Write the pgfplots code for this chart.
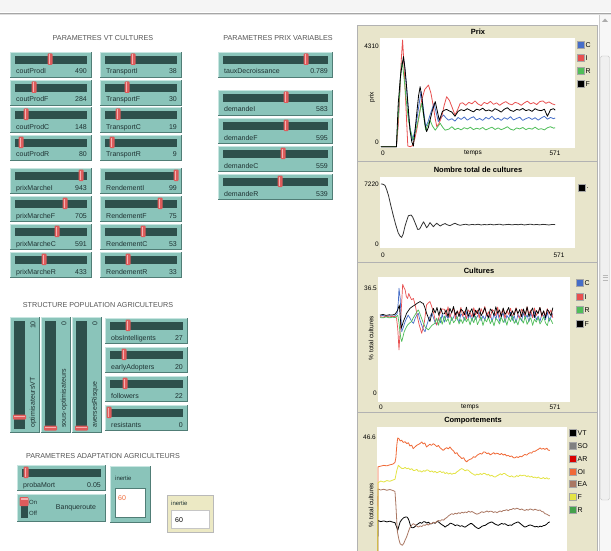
\documentclass[border=0pt]{standalone}
\usepackage{pgfplots}
\pgfplotsset{compat=1.18}
\usepackage{fontspec}
\setmainfont{Liberation Sans}

\definecolor{steal}{RGB}{138,196,186}
\definecolor{slight}{RGB}{200,230,225}
\definecolor{sdark}{RGB}{80,125,118}
\definecolor{strack}{RGB}{46,80,76}
\definecolor{shandle}{RGB}{222,92,92}
\definecolor{shandlehi}{RGB}{245,175,175}
\definecolor{stext}{RGB}{30,50,50}
\definecolor{ttext}{RGB}{85,85,85}
\definecolor{panel}{RGB}{232,229,203}
\definecolor{monitor}{RGB}{236,233,196}
\definecolor{nlred}{RGB}{232,80,80}
\definecolor{nlblue}{RGB}{70,110,200}
\definecolor{nlgreen}{RGB}{80,190,90}
\definecolor{nlorange}{RGB}{240,105,55}
\definecolor{nlyellow}{RGB}{228,228,70}
\definecolor{nlbrown}{RGB}{170,120,100}

\newcommand{\slfont}{\fontsize{7}{8}\selectfont}
\newcommand{\lgfont}{\fontsize{7}{8}\selectfont}
\newcommand{\tkfont}{\fontsize{6.5}{7}\selectfont}
\newcommand{\hdfont}{\fontsize{7.2}{8}\selectfont}

% x y w label value handle-x
\newcommand{\hslider}[6]{%
  \fill[sdark] (#1,#2) rectangle ++(#3,26);
  \fill[slight] (#1,#2) rectangle ++(#3-1,25);
  \fill[steal] (#1+1,#2+1) rectangle ++(#3-2,24);
  \fill[strack] (#1+5,#2+4) rectangle (#1+#3-5,#2+12);
  \fill[shandle,rounded corners=1pt] (#6-2.5,#2+1.5) rectangle (#6+2.5,#2+13);
  \fill[shandlehi] (#6-1.5,#2+2.5) rectangle (#6-0.4,#2+12);
  \node[anchor=base west,font=\slfont,text=stext,inner sep=0pt] at (#1+6,#2+22) {#4};
  \node[anchor=base east,font=\slfont,text=stext,inner sep=0pt] at (#1+#3-5,#2+22) {#5};
}
% x y label value handle-y
\newcommand{\vslider}[5]{%
  \fill[sdark] (#1,#2) rectangle ++(30,116);
  \fill[slight] (#1,#2) rectangle ++(29,115);
  \fill[steal] (#1+1,#2+1) rectangle ++(28,114);
  \fill[strack] (#1+4,#2+4) rectangle (#1+15,#2+112);
  \fill[shandle,rounded corners=1pt] (#1+3,#5-2.5) rectangle (#1+16,#5+2.5);
  \fill[shandlehi] (#1+4,#5-1.5) rectangle (#1+15,#5-0.5);
  \node[rotate=90,anchor=west,font=\slfont,text=stext,inner sep=0pt] at (#1+23,#2+111) {#3};
  \node[rotate=90,anchor=east,font=\slfont,text=stext,inner sep=0pt] at (#1+23,#2+4) {#4};
}
\newcommand{\lgd}[4]{%
  \fill[#3,draw=gray!70] (#1-3.5,#2-3.5) rectangle ++(7,7);
  \node[anchor=west,font=\lgfont,inner sep=0pt] at (#1+4.5,#2) {#4};
}

\pgfplotsset{nlplot/.style={anchor=south west,scale only axis,hide axis,
  every axis plot/.append style={line width=0.8pt,line join=round}}}

\begin{document}
\begin{tikzpicture}
\useasboundingbox (0,0) rectangle (611pt,-551pt);
\clip (0,0) rectangle (611pt,-551pt);
\fill[white] (0,0) rectangle (611pt,-551pt);

\begin{scope}[x=1pt,y=-1pt]
% window top and scrollbar
\fill[gray!8] (0,0) rectangle (611,12.5);
\draw[gray!70,line width=0.8pt] (0,13) -- (611,13);
\draw[gray!25] (0,14.5) -- (611,14.5);
\fill[gray!6] (599,15) rectangle (611,551);
\draw[gray!40] (599,15) -- (599,551);
\fill[gray!65] (602,22) -- (608,22) -- (605,18.5) -- cycle;
\fill[gray!12,draw=gray!45,rounded corners=1.5pt] (600.5,56) rectangle (609.5,500);
\foreach \g in {275,277.5,280} \draw[gray!55] (602.5,\g) -- (607.5,\g);

% section titles
\node[font=\hdfont,text=ttext] at (103,38) {PARAMETRES VT CULTURES};
\node[font=\hdfont,text=ttext] at (278,38) {PARAMETRES PRIX VARIABLES};
\node[font=\hdfont,text=ttext] at (98,305) {STRUCTURE POPULATION AGRICULTEURS};
\node[font=\hdfont,text=ttext] at (103,456) {PARAMETRES ADAPTATION AGRICULTEURS};

% PARAMETRES VT CULTURES
\hslider{10}{52}{82}{coutProdI}{490}{50}
\hslider{10}{80}{82}{coutProdF}{284}{34}
\hslider{10}{107}{82}{coutProdC}{148}{26}
\hslider{10}{135}{82}{coutProdR}{80}{21}
\hslider{100}{52}{82}{TransportI}{38}{133}
\hslider{100}{80}{82}{TransportF}{30}{127}
\hslider{100}{107}{82}{TransportC}{19}{118}
\hslider{100}{135}{82}{TransportR}{9}{112}
\hslider{10}{168}{82}{prixMarcheI}{943}{81}
\hslider{10}{196}{82}{prixMarcheF}{705}{65}
\hslider{10}{224}{82}{prixMarcheC}{591}{57}
\hslider{10}{252}{82}{prixMarcheR}{433}{44}
\hslider{100}{168}{82}{RendementI}{99}{176}
\hslider{100}{196}{82}{RendementF}{75}{160}
\hslider{100}{224}{82}{RendementC}{53}{143}
\hslider{100}{252}{82}{RendementR}{33}{128}

% PARAMETRES PRIX VARIABLES
\hslider{218}{52}{115}{tauxDecroissance}{0.789}{306}
\hslider{218}{90}{115}{demandeI}{583}{286}
\hslider{218}{118}{115}{demandeF}{595}{286}
\hslider{218}{146}{115}{demandeC}{559}{283}
\hslider{218}{174}{115}{demandeR}{539}{280}

% STRUCTURE POPULATION AGRICULTEURS
\vslider{10}{317}{optimisateursVT}{10}{417}
\vslider{41}{317}{sous-optimisateurs}{0}{428}
\vslider{72}{317}{aversesRisque}{0}{428}
\hslider{105}{318}{83}{obsIntelligents}{27}{128}
\hslider{105}{347}{83}{earlyAdopters}{20}{124}
\hslider{105}{376}{83}{followers}{22}{125}
\hslider{105}{405}{83}{resistants}{0}{109}

% PARAMETRES ADAPTATION AGRICULTEURS
\hslider{17}{465}{89}{probaMort}{0.05}{26}
\fill[sdark] (17,494) rectangle ++(89,28);
\fill[slight] (17,494) rectangle ++(88,27);
\fill[steal] (18,495) rectangle ++(87,26);
\fill[strack] (20.5,498) rectangle (27.5,518);
\fill[shandle,rounded corners=1pt] (19.5,497) rectangle (28.5,506);
\fill[shandlehi] (20.5,498) rectangle (27.5,499.5);
\node[anchor=west,font=\fontsize{6}{6}\selectfont,text=stext,inner sep=0pt] at (29,502.5) {On};
\node[anchor=west,font=\fontsize{6}{6}\selectfont,text=stext,inner sep=0pt] at (29,513) {Off};
\node[font=\slfont,text=stext] at (76,508) {Banqueroute};
% input box
\fill[sdark] (110,466) rectangle ++(41,57);
\fill[slight] (110,466) rectangle ++(40,56);
\fill[steal] (111,467) rectangle ++(39,55);
\node[anchor=base west,font=\fontsize{6}{7}\selectfont,text=stext,inner sep=0pt] at (115,480) {inertie};
\fill[white,draw=sdark] (115,488) rectangle (145,517);
\node[anchor=base west,font=\fontsize{7}{8}\selectfont,text=nlorange,inner sep=0pt] at (118,500) {60};
% monitor
\fill[monitor,draw=gray!55] (167,495) rectangle (213,532);
\node[anchor=base west,font=\fontsize{6}{7}\selectfont,text=stext,inner sep=0pt] at (171,505) {inertie};
\fill[white,draw=gray!45] (171,510) rectangle (209,528);
\node[anchor=base west,font=\fontsize{7}{8}\selectfont,inner sep=0pt] at (175,522) {60};

% plot panels
\fill[panel,draw=gray!60] (357,25) rectangle (597,161);
\fill[panel,draw=gray!60] (357,161) rectangle (597,262);
\fill[panel,draw=gray!60] (357,262) rectangle (597,412);
\fill[panel,draw=gray!60] (357,412) rectangle (597,570);
\fill[white] (380,38) rectangle (575,148);
\fill[white] (380,177) rectangle (575,248);
\fill[white] (378,277) rectangle (570,402);
\fill[white] (377,427) rectangle (567,570);

\node[font=\fontsize{7.5}{8}\selectfont\bfseries] at (478,32) {Prix};
\node[font=\fontsize{7.5}{8}\selectfont\bfseries] at (478,170) {Nombre total de cultures};
\node[font=\fontsize{7.5}{8}\selectfont\bfseries] at (479,270.5) {Cultures};
\node[font=\fontsize{7.5}{8}\selectfont\bfseries] at (473,421) {Comportements};

% axis texts
\node[anchor=east,font=\tkfont,inner sep=0pt] at (379,46) {4310};
\node[anchor=east,font=\tkfont,inner sep=0pt] at (379,142) {0};
\node[rotate=90,font=\tkfont] at (372,97) {prix};
\node[font=\tkfont] at (383,153) {0};
\node[font=\tkfont] at (473,153.5) {temps};
\node[font=\tkfont] at (555,153) {571};

\node[anchor=east,font=\tkfont,inner sep=0pt] at (379,184) {7220};
\node[anchor=east,font=\tkfont,inner sep=0pt] at (379,244) {0};
\node[font=\tkfont] at (383,255) {0};
\node[font=\tkfont] at (559,255) {571};

\node[anchor=east,font=\tkfont,inner sep=0pt] at (377,288) {36.5};
\node[anchor=east,font=\tkfont,inner sep=0pt] at (377,393) {0};
\node[rotate=90,font=\tkfont] at (371,338) {\% total cultures};
\node[font=\tkfont] at (381,407) {0};
\node[font=\tkfont] at (470,407.5) {temps};
\node[font=\tkfont] at (555,407) {571};

\node[anchor=east,font=\tkfont,inner sep=0pt] at (376,437) {46.6};
\node[rotate=90,font=\tkfont] at (371,505) {\% total cultures};

% legends
\lgd{581}{45}{nlblue}{C}
\lgd{581}{58}{nlred}{I}
\lgd{581}{71}{nlgreen}{R}
\lgd{581}{84}{black}{F}
\lgd{582}{188}{black}{.}
\lgd{580}{283}{nlblue}{C}
\lgd{580}{297}{nlred}{I}
\lgd{580}{310}{nlgreen}{R}
\lgd{580}{324}{black}{F}
\lgd{573}{433}{black}{VT}
\lgd{573}{446}{gray}{SO}
\lgd{573}{459}{red!85!black}{AR}
\lgd{573}{472}{nlorange}{OI}
\lgd{573}{484}{nlbrown}{EA}
\lgd{573}{497}{nlyellow}{F}
\lgd{573}{510}{nlgreen!85!black}{R}
\end{scope}

% ---------- Prix ----------
\begin{axis}[nlplot,at={(380pt,-148pt)},width=195pt,height=110pt,
  xmin=-3.2,xmax=629.4,ymin=-53,ymax=4462]
\addplot[nlblue] coordinates {(0,0)(50,0)(58,1500)(63,2800)(67,3420)(75,3490)(82,2600)(89,1370)(95,700)(102,270)(109,600)(116,1090)(123,1700)(130,2260)(137,1600)(145,820)(152,1000)(159,1300)(166,1550)(172,1780)(179,1400)(186,1030)(195,1200)(203,1300)(211,1180)(219,1090)(230,1150)(240,1050)(250,1200)(260,1120)(270,1220)(280,1090)(290,1170)(300,1230)(310,1100)(320,1160)(330,1080)(340,1200)(350,1140)(360,1250)(370,1110)(380,1170)(390,1080)(400,1190)(410,1130)(420,1230)(430,1100)(440,1160)(450,1210)(460,1080)(470,1150)(480,1200)(490,1120)(500,1190)(510,1090)(520,1180)(530,1250)(540,1130)(550,1200)(560,1150)(565,1180)};
\addplot[nlred] coordinates {(0,0)(50,0)(56,900)(62,2460)(66,3600)(70,4380)(74,3500)(78,2460)(83,1100)(87,30)(95,0)(102,40)(110,350)(116,690)(124,1300)(132,1920)(142,2350)(154,2530)(162,2200)(170,1640)(176,1150)(181,820)(188,950)(197,1230)(205,1700)(213,2050)(222,1900)(230,1640)(240,1300)(248,1500)(257,1780)(265,1800)(275,1700)(285,1820)(295,1760)(305,1880)(315,1750)(325,1690)(335,1820)(345,1760)(355,1860)(365,1740)(375,1800)(385,1700)(395,1790)(405,1850)(415,1760)(425,1720)(435,1820)(445,1780)(455,1700)(465,1800)(475,1870)(485,1760)(495,1810)(505,1730)(515,1850)(525,1880)(535,1780)(545,1840)(555,1760)(565,1720)};
\addplot[nlgreen] coordinates {(0,0)(50,0)(58,1700)(64,3000)(69,3490)(75,2800)(82,1900)(89,1090)(97,600)(105,270)(113,680)(121,1090)(127,1500)(132,1780)(139,1200)(145,680)(152,900)(159,1090)(167,850)(176,680)(184,820)(192,960)(200,800)(208,680)(220,720)(230,820)(240,700)(250,760)(260,690)(270,780)(280,730)(290,800)(300,700)(310,760)(320,720)(330,790)(340,690)(350,750)(360,800)(370,710)(380,770)(390,700)(400,750)(410,820)(420,720)(430,680)(440,770)(450,730)(460,790)(470,700)(480,760)(490,720)(500,800)(510,710)(520,740)(530,690)(540,780)(550,820)(560,760)(565,780)};
\addplot[black] coordinates {(0,0)(50,0)(56,1780)(64,3000)(73,3700)(78,3200)(83,2460)(89,1500)(94,680)(100,200)(105,30)(110,600)(116,1370)(122,2100)(127,2460)(133,2000)(138,1370)(143,900)(148,620)(154,800)(159,1090)(167,1500)(176,1850)(182,1500)(189,1090)(194,1250)(199,1440)(206,1500)(213,1530)(220,1480)(230,1420)(240,1250)(250,1450)(260,1520)(270,1480)(280,1560)(290,1490)(300,1430)(310,1540)(320,1500)(330,1580)(340,1470)(350,1510)(360,1450)(370,1560)(380,1500)(390,1420)(400,1540)(410,1600)(420,1490)(430,1450)(440,1530)(450,1500)(460,1570)(470,1480)(480,1520)(490,1450)(500,1560)(510,1500)(520,1480)(530,1540)(540,1250)(550,1520)(560,1560)(565,1500)};
\end{axis}

% ---------- Nombre total de cultures ----------
\begin{axis}[nlplot,at={(380pt,-248pt)},width=195pt,height=71pt,
  xmin=-3.2,xmax=629.4,ymin=-233,ymax=8035]
\addplot[black!80] coordinates {(0,7220)(6,7200)(13,7060)(18,6600)(24,5940)(32,4700)(40,3530)(48,2450)(56,1520)(62,1150)(67,1000)(72,1400)(78,2330)(84,3000)(89,3530)(98,3610)(103,3350)(108,2930)(114,2400)(119,1930)(124,1950)(128,2130)(133,2500)(138,2810)(143,2500)(148,2130)(153,2350)(159,2730)(164,2500)(170,2250)(175,2450)(181,2650)(186,2500)(192,2330)(200,2500)(208,2610)(216,2450)(224,2370)(232,2520)(240,2650)(248,2500)(257,2410)(265,2480)(275,2530)(285,2440)(295,2510)(305,2470)(315,2530)(325,2450)(335,2500)(345,2470)(355,2530)(365,2460)(375,2500)(385,2540)(395,2450)(405,2490)(415,2520)(425,2460)(435,2510)(445,2480)(455,2530)(465,2450)(475,2500)(485,2540)(495,2470)(505,2510)(515,2460)(525,2520)(535,2490)(545,2450)(555,2510)(565,2490)};
\end{axis}

% ---------- Cultures ----------
\begin{axis}[nlplot,at={(378pt,-402pt)},width=192pt,height=125pt,
  xmin=-6.5,xmax=620,ymin=-1.72,ymax=38.87,
  every axis plot/.append style={line width=0.7pt}]
\addplot[nlblue] coordinates {(0,26.2)(10,26.4)(20,26)(30,26.3)(40,26.1)(50,26.3)(56,27)(60,31)(62,35.2)(64,33.5)(66,31.9)(68,27)(71,21.1)(76,22.5)(82,24.4)(87,25.5)(92,26.5)(98,25.5)(103,24.5)(109,23.8)(115,25.5)(120,26.5)(125,27.1)(130,25)(136,23.3)(141,22)(147,21.1)(152,23)(158,24.9)(163,26)(169,27.1)(175,25.5)(180,24)(185,23.3)(191,25.5)(197,24)(203,26.8)
(210,24.2)(216,26.5)(222,25.4)(228,27.2)(234,24.7)(240,25.8)(246,27.3)(252,25.2)(258,24.1)(264,26.9)(270,26.2)(276,24.8)(282,27.6)(288,25.5)(294,26.6)(300,24.5)(306,27.2)(312,25.1)(318,26.1)(324,27.4)(330,24.6)(336,26.3)(342,24.9)(348,27.1)(354,25.4)(360,26.7)(366,24.4)(372,26.9)(378,25.1)(384,27.6)(390,24.5)(396,26.1)(402,27.2)(408,24.1)(414,26.4)(420,25.4)(426,27.4)(432,24.8)(438,26.3)(444,24.0)(450,26.7)(456,26.0)(462,24.6)(468,27.3)(474,25.3)(480,26.6)(486,24.3)(492,27.1)(498,25.6)(504,27.7)(510,24.9)(516,26.2)(522,24.4)(528,26.8)(534,26.3)(540,25.0)(546,27.5)(552,24.5)(558,25.9)(564,27.0)};
\addplot[nlred] coordinates {(0,26)(10,25.8)(20,26.2)(30,25.9)(40,26.1)(50,26)(54,25.5)(58,22)(62,15.2)(65,20)(67,24.4)(71,31)(74,36.5)(78,35.5)(82,34.7)(86,32.5)(90,31.9)(94,33.5)(98,32.5)(103,31.5)(109,31.9)(113,30.5)(117,28.7)(122,26)(128,23.3)(132,22)(136,20.6)(141,22.5)(145,24.4)(149,27.5)(152,29.8)(158,30.5)(163,30.9)(168,29.5)(174,27.6)(180,25)(185,23.3)(190,25)(196,27.1)(202,28.5)
(210,28.4)(216,26.4)(222,29.2)(228,25.7)(234,27.5)(240,28.8)(246,25.3)(252,27.9)(258,26.8)(264,29.0)(270,26.1)(276,27.7)(282,25.2)(288,28.2)(294,27.4)(300,25.9)(306,28.9)(312,26.6)(318,28.1)(324,25.5)(330,28.6)(336,27.0)(342,29.3)(348,26.2)(354,27.6)(360,25.6)(366,28.3)(372,27.8)(378,26.3)(384,29.1)(390,25.8)(396,27.3)(402,28.5)(408,25.4)(414,28.0)(420,26.7)(426,28.7)(432,26.0)(438,27.2)(444,28.9)(450,26.5)(456,25.3)(462,28.4)(468,27.6)(474,26.1)(480,29.2)(486,26.9)(492,28.1)(498,25.7)(504,28.8)(510,26.4)(516,27.5)(522,29.0)(528,25.9)(534,27.8)(540,26.2)(546,28.6)(552,26.8)(558,28.2)(564,25.6)};
\addplot[nlgreen] coordinates {(0,25.7)(10,25.6)(20,25.9)(30,25.6)(40,25.8)(50,25.7)(58,26.5)(62,24)(65,21.1)(68,19)(71,17.9)(75,19.5)(79,21.1)(84,22.2)(90,23.3)(97,24)(103,24.4)(108,25.5)(114,26.5)(120,27.5)(125,28.2)(130,27)(136,25.4)(141,24)(147,22.7)(152,22.2)(158,21.7)(164,22.5)(170,23.2)(179,23.8)(185,25.5)(191,23.2)(197,25.8)(203,23.5)
(210,26.2)(216,24.4)(222,25.3)(228,23.4)(234,25.9)(240,24.0)(246,24.8)(252,26.0)(258,23.6)(264,25.1)(270,23.8)(276,25.7)(282,24.3)(288,25.4)(294,23.3)(300,25.6)(306,24.0)(312,26.2)(318,23.4)(324,24.8)(330,25.9)(336,23.1)(342,25.2)(348,24.3)(354,26.0)(360,23.7)(366,25.0)(372,23.0)(378,25.4)(384,24.8)(390,23.6)(396,26.0)(402,24.1)(408,25.3)(414,23.2)(420,25.7)(426,24.4)(432,26.3)(438,23.8)(444,24.9)(450,23.3)(456,25.5)(462,25.1)(468,23.9)(474,26.1)(480,23.5)(486,24.7)(492,25.6)(498,23.2)(504,25.2)(510,24.2)(516,25.8)(522,23.6)(528,24.6)(534,26.0)(540,24.0)(546,23.1)(552,25.6)(558,24.9)(564,23.7)};
\addplot[black] coordinates {(0,26.5)(10,26.7)(20,26.4)(30,26.6)(40,26.5)(49,26.8)(54,27.5)(58,28.2)(63,29.8)(66,26)(69,22.2)(73,23.3)(76,24.4)(82,25.8)(87,27.1)(93,28)(98,28.7)(106,29.3)(114,29.8)(122,30.4)(131,30.9)(136,30.5)(141,30.3)(147,28.8)(152,27.1)(158,25.6)(163,24.4)(168,26.5)(174,28.7)(180,27.2)(186,29)(192,26.4)(198,28.8)(204,26.9)
(210,26.9)(216,28.2)(222,25.9)(228,28.7)(234,27.2)(240,29.3)(246,26.5)(252,27.8)(258,26.0)(264,28.4)(270,27.9)(276,26.6)(282,29.1)(288,26.1)(294,27.5)(300,28.6)(306,25.8)(312,28.1)(318,27.0)(324,28.8)(330,26.3)(336,27.4)(342,28.9)(348,26.8)(354,25.7)(360,28.5)(366,27.8)(372,26.4)(378,29.2)(384,27.1)(390,28.2)(396,26.0)(402,28.8)(408,26.7)(414,27.7)(420,29.0)(426,26.2)(432,27.9)(438,26.5)(444,28.7)(450,27.0)(456,28.3)(462,26.0)(468,28.5)(474,26.7)(480,29.2)(486,26.0)(492,27.7)(498,28.8)(504,25.7)(510,28.0)(516,27.0)(522,29.0)(528,26.4)(534,27.9)(540,25.6)(546,28.3)(552,27.6)(558,26.2)(564,28.9)};
\end{axis}

% ---------- Comportements ----------
\begin{axis}[nlplot,at={(377pt,-560pt)},width=190pt,height=133pt,
  xmin=-2.3,xmax=623.7,ymin=-3.2,ymax=50.2]
\addplot[black] coordinates {(0,0)(1,12.7)(10,12.2)(20,12.5)(30,12.1)(40,12.4)(50,12)(57,11.8)(61,10.5)(66,8.7)(70,10.5)(74,12.1)(79,13)(85,13.7)(90,14)(96,14.1)(100,13.5)(103,12.7)(107,11)(110,10)(115,9.7)(121,10)(127,10.8)(134,11.4)(140,11.9)(145,11.5)(151,12.2)(156,12.1)(162,11.6)(167,12)(173,11.3)(178,11.4)(184,11.9)(189,11.5)(195,12.3)(200,12.1)(206,11.5)(211,11)(217,10.6)(222,10)(228,10.6)(233,10.9)(239,11.6)(244,11.4)(250,11.1)(255,10.6)(261,10.9)(266,10.7)(272,10.3)(277,10.6)(283,10.2)(288,10)(294,10.5)(299,10.9)(305,11.4)(310,11.4)(316,10.8)(321,10.2)(327,9.7)(332,9.4)(338,9.8)(343,10.3)(349,10.6)(354,10.7)(360,11.2)(365,11.6)(371,11.9)(376,12.1)(382,11.6)(387,11.2)(393,10.9)(397,10.7)(403,11.1)(408,11.5)(414,11.2)(419,11.4)(425,10.9)(430,10.6)(436,10.9)(441,10.7)(447,11.3)(452,11.6)(458,11.9)(463,12.1)(469,11.5)(474,11)(480,10.4)(485,10)(491,10.3)(496,10.6)(502,10.9)(507,10.7)(513,10.4)(518,10.1)(524,10.3)(529,10)(535,10.4)(540,10.2)(546,10.6)(551,10.7)(557,11.2)(562,11.8)(567,12.1)};
\addplot[gray] coordinates {(0,0)(567,0)};
\addplot[red!85!black] coordinates {(0,0)(567,0)};
\addplot[nlorange] coordinates {(0,0)(1,34.2)(10,34.5)(20,34.8)(30,34.6)(40,35)(50,35.3)(57,36)(60,38)(63,43)(66,45.8)(70,45.5)(74,44.6)(79,44.9)(84,44)(90,44.3)(96,43.5)(101,43.9)(106,42.6)(112,42.9)(117,41.5)(122,42.1)(128,42.8)(134,43.2)(140,43.6)(145,44.2)(150,43.4)(155,43.8)(161,42.2)(166,42.7)(172,43.3)(177,42.8)(183,43.5)(189,43)(195,42.3)(200,42.8)(206,41.8)(211,41.3)(216,40.8)(222,41.5)(227,41.9)(233,41.4)(238,42.2)(244,41.2)(250,40.6)(255,39.5)(261,39.9)(266,38.8)(272,38.2)(277,37.5)(283,37.9)(288,36.8)(293,36.2)(299,36.9)(304,37.2)(310,37.5)(316,38.3)(321,38)(327,38.8)(332,39.2)(338,39.6)(343,39.3)(349,40.2)(354,40.1)(360,39.5)(365,39.8)(371,39)(376,39.4)(382,39.9)(387,39.3)(392,39.7)(397,39.5)(403,39.1)(408,39.6)(414,38.9)(419,39.3)(425,38.6)(430,38.8)(436,38.3)(441,38.6)(447,37.9)(452,37.8)(458,38.3)(463,37.9)(469,38.5)(474,38.2)(480,38.8)(485,39.2)(491,38.9)(496,39.5)(502,39.9)(507,39.7)(513,40.5)(518,40.4)(524,40.9)(529,41.2)(535,41.8)(540,41.3)(546,41.6)(551,41.2)(557,41.7)(562,40.9)(567,40.8)};
\addplot[nlbrown] coordinates {(0,0)(1,25.3)(10,24.9)(20,25.2)(30,24.8)(40,25.1)(50,24.7)(57,24.3)(60,18.7)(63,12)(65,8)(70,5)(74,3.3)(81,2.7)(86,3.5)(90,4.7)(95,6)(99,7.4)(103,8.8)(107,10)(112,10.8)(117,11.4)(123,11)(128,10.5)(134,10)(140,10.5)(145,10.2)(151,10.9)(156,10.7)(162,11.2)(167,10.8)(173,11.5)(178,11.4)(184,12)(189,11.6)(195,12.3)(200,12.7)(206,12.4)(211,13)(217,12.8)(222,13.4)(228,13.9)(233,14.5)(239,15)(244,15.4)(250,15.1)(255,15.6)(261,15.3)(266,15.8)(272,15.5)(277,16)(283,15.7)(288,16.1)(294,15.8)(299,16.4)(305,16)(310,16.3)(316,15.9)(321,15.5)(327,15.2)(332,15.4)(338,15.8)(343,16.2)(349,15.9)(354,16.1)(360,16.5)(365,16.1)(371,16.4)(376,16.3)(382,15.9)(387,16.2)(393,15.8)(397,16.1)(403,16.5)(408,16.2)(414,16.7)(419,16.7)(425,17)(430,16.6)(436,17.1)(441,17.1)(447,17.5)(452,17.2)(458,17.6)(463,17.4)(469,17)(474,17.3)(480,16.9)(485,16.7)(491,17.1)(496,16.8)(502,17.3)(507,17.1)(513,16.8)(518,17.2)(524,16.9)(529,16.7)(535,16.9)(540,16.3)(546,16.1)(551,15.4)(557,15.2)(562,14.8)(567,14.5)};
\addplot[nlyellow] coordinates {(0,0)(1,27.8)(10,28.5)(20,28.1)(30,28.7)(40,28.4)(50,28.9)(57,29.2)(60,31)(63,32.8)(68,34.8)(73,34.2)(79,33.6)(85,33.5)(90,34)(96,33.4)(101,33.7)(107,33.1)(112,33.5)(118,32.7)(123,32.8)(129,33.2)(134,32.4)(140,32.6)(145,32.1)(151,32.7)(156,32.4)(162,33)(167,32.8)(173,32.2)(178,32.6)(184,32)(189,32.4)(195,31.8)(200,32.1)(206,32.5)(211,31.9)(217,32.2)(222,31.5)(228,31.9)(233,31.3)(239,31.7)(244,31.2)(250,31.6)(255,31.5)(261,32.2)(266,32.6)(272,33.2)(277,33.5)(283,33.1)(288,32.6)(294,33)(299,32.8)(305,32.1)(310,31.6)(316,31.2)(321,30.8)(327,31.3)(332,31)(338,31.5)(343,31.1)(349,31.6)(354,31.5)(360,30.9)(365,31.2)(371,30.5)(376,30.8)(382,30.3)(387,30.1)(393,30.6)(398,30.9)(404,31.4)(409,31)(414,31.5)(419,31.5)(425,30.9)(430,30.6)(436,30.2)(441,30.6)(447,30.1)(452,30.1)(458,30.7)(463,30.3)(469,30.9)(474,30.6)(480,30.8)(485,30.8)(491,30.3)(496,30.6)(502,30.1)(507,30.4)(513,29.9)(518,30.1)(524,29.7)(529,30.1)(535,29.6)(540,29.5)(546,29.9)(551,29.4)(557,29.8)(562,29.3)(567,29.5)};
\addplot[nlgreen!85!black] coordinates {(0,0)(567,0)};
\end{axis}
\end{tikzpicture}
\end{document}
